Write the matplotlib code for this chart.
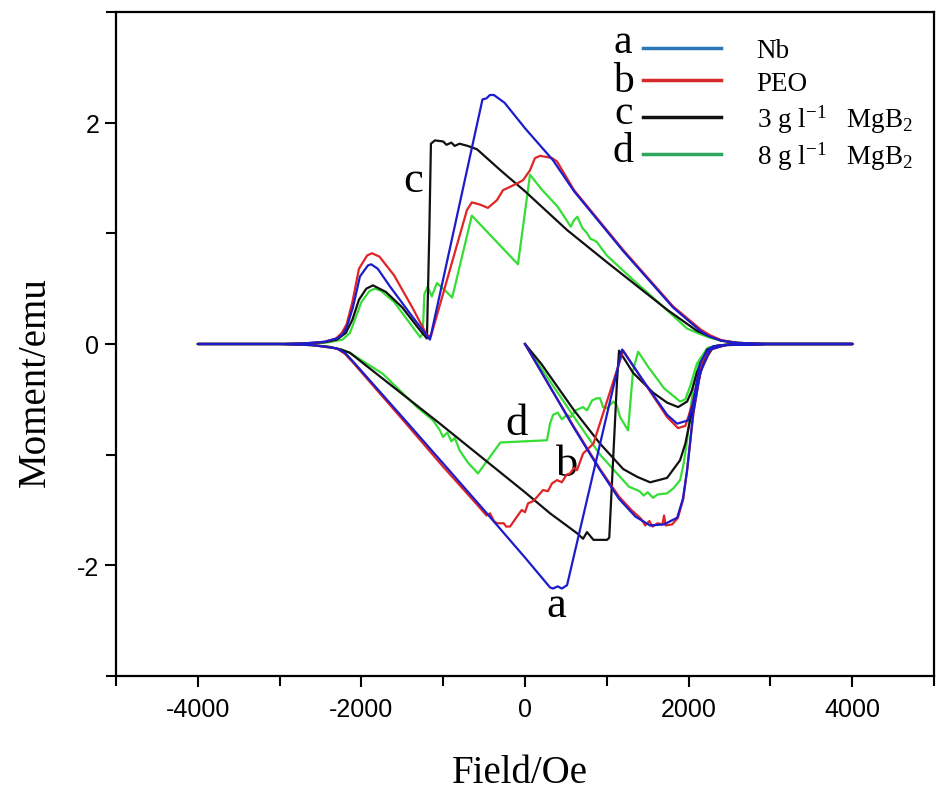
import matplotlib
matplotlib.use("Agg")
import matplotlib.pyplot as plt
from matplotlib.lines import Line2D
from matplotlib.ticker import MultipleLocator

serif = ['Liberation Serif', 'DejaVu Serif']
sans = ['Liberation Sans', 'DejaVu Sans']
plt.rcParams['axes.unicode_minus'] = False
plt.rcParams['mathtext.fontset'] = 'custom'
plt.rcParams['mathtext.rm'] = 'Liberation Serif'
plt.rcParams['mathtext.it'] = 'Liberation Serif:italic'
plt.rcParams['mathtext.bf'] = 'Liberation Serif:bold'

# --- data (field in Oe, moment in emu) ---
# a: Nb
nb_field = [0, 300, 600, 917, 1150, 1350, 1530, 1700, 1860, 1930, 1982, 2055, 2141, 2263, 2450, 3000, 4000,
            3000, 2600, 2400, 2250, 2141, 1810, 1200, 600, 343, 0, -250, -380, -430, -470, -520,
            -1162, -1370, -1651, -1800, -1880, -1920, -2018, -2104, -2180, -2226, -2300, -2450, -2700, -3000, -4000,
            -3000, -2600, -2400, -2300, -2200, -2100, -1500, -1000, -514, 0, 306, 343, 400, 450, 514,
            1187, 1444, 1737, 1860, 1994, 2050, 2141, 2226, 2300, 2500, 3000, 4000]
nb_moment = [0, -0.38, -0.76, -1.14, -1.40, -1.56, -1.64, -1.63, -1.57, -1.40, -1.14, -0.63, -0.26, -0.05, -0.01, 0, 0,
             0, 0.01, 0.03, 0.07, 0.12, 0.33, 0.84, 1.38, 1.66, 1.95, 2.18, 2.25, 2.25, 2.22, 2.21,
             0.04, 0.24, 0.52, 0.68, 0.72, 0.71, 0.61, 0.33, 0.15, 0.09, 0.05, 0.02, 0.005, 0, 0,
             0, -0.01, -0.03, -0.04, -0.08, -0.16, -0.66, -1.08, -1.49, -1.93, -2.2, -2.21, -2.19, -2.21, -2.18,
             -0.05, -0.33, -0.64, -0.72, -0.69, -0.55, -0.17, -0.06, -0.02, -0.005, 0, 0]

# b: PEO
peo_field = [0, 300, 600, 917, 1150, 1300, 1420, 1470, 1520, 1560, 1620, 1680, 1700, 1720, 1800, 1870, 1935, 1985,
             2060, 2145, 2270, 2450, 3000, 4000,
             3000, 2600, 2400, 2260, 2150, 1810, 1200, 600, 391, 330, 269, 183, 122, 61, -24, -100, -183, -269,
             -343, -453, -550, -650, -710, -1150, -1200, -1370, -1600, -1780, -1871, -1930, -2030, -2110, -2180,
             -2240, -2310, -2450, -2700, -3000, -4000,
             -3000, -2600, -2400, -2300, -2200, -2100, -1500, -1000, -600, -470, -428, -380, -343, -260, -230,
             -183, -98, -40, 0, 37, 100, 150, 220, 280, 330, 391, 450, 510, 550, 600, 636, 710, 837,
             1200, 1450, 1737, 1870, 1960, 2000, 2060, 2150, 2240, 2320, 2500, 3000, 4000]
peo_moment = [0, -0.38, -0.75, -1.13, -1.38, -1.50, -1.58, -1.64, -1.60, -1.65, -1.62, -1.63, -1.55, -1.64, -1.63,
              -1.57, -1.40, -1.12, -0.62, -0.25, -0.05, -0.01, 0, 0,
              0, 0.01, 0.035, 0.08, 0.13, 0.34, 0.85, 1.39, 1.65, 1.68, 1.69, 1.70, 1.68, 1.57, 1.48, 1.45, 1.42,
              1.39, 1.30, 1.23, 1.26, 1.28, 1.21, 0.07, 0.08, 0.32, 0.62, 0.79, 0.82, 0.80, 0.68, 0.38, 0.18,
              0.10, 0.05, 0.02, 0.005, 0, 0,
              0, -0.01, -0.03, -0.04, -0.09, -0.17, -0.68, -1.11, -1.44, -1.55, -1.53, -1.60, -1.62, -1.62, -1.65,
              -1.65, -1.56, -1.50, -1.52, -1.44, -1.42, -1.38, -1.32, -1.33, -1.26, -1.23, -1.25, -1.18, -1.17,
              -1.12, -1.14, -0.99, -0.90,
              -0.06, -0.34, -0.66, -0.76, -0.74, -0.65, -0.50, -0.18, -0.06, -0.02, -0.005, 0, 0]

# c: 3 g/l MgB2
mg3_field = [0, 200, 600, 917, 1200, 1370, 1530, 1737, 1896, 1960, 2018, 2100, 2177, 2300, 2500, 3000, 4000,
             3000, 2600, 2400, 2250, 2100, 1737, 1000, 514, 0, -300, -587, -700, -800, -860, -900, -960, -1000,
             -1101, -1150, -1170, -1199, -1300, -1500, -1700, -1859, -1940, -2030, -2110, -2190, -2300, -2450,
             -2700, -3000, -4000,
             -3000, -2600, -2400, -2250, -2140, -1040, 0, 306, 636, 710, 758, 837, 1003, 1030, 1125, 1150,
             1321, 1566, 1737, 1872, 1982, 2040, 2100, 2226, 2350, 2500, 3000, 4000]
mg3_moment = [0, -0.18, -0.60, -0.90, -1.13, -1.20, -1.25, -1.21, -1.05, -0.90, -0.69, -0.40, -0.17, -0.03, -0.005, 0, 0,
              0, 0.01, 0.03, 0.07, 0.12, 0.31, 0.74, 1.03, 1.38, 1.57, 1.76, 1.79, 1.81, 1.79, 1.82, 1.80, 1.83,
              1.84, 1.81, 1.0, 0.05, 0.14, 0.33, 0.47, 0.53, 0.50, 0.40, 0.22, 0.10, 0.04, 0.015,
              0.005, 0, 0,
              0, -0.01, -0.025, -0.05, -0.08, -0.72, -1.34, -1.53, -1.71, -1.76, -1.70, -1.77, -1.77, -1.75, -0.33, -0.06,
              -0.26, -0.44, -0.53, -0.57, -0.52, -0.42, -0.26, -0.05, -0.015, -0.005, 0, 0]

# d: 8 g/l MgB2
mg8_field = [0, 300, 600, 917, 1100, 1272, 1400, 1450, 1500, 1566, 1620, 1737, 1820, 1896, 1940, 1982, 2055, 2141,
             2250, 2450, 3000, 4000,
             3000, 2600, 2400, 2250, 2141, 1980, 1700, 1321, 1000, 920, 880, 837, 800, 760, 700, 640, 600, 560,
             400, 200, 61, -86, -650, -890, -1000, -1077, -1140, -1190, -1230, -1250, -1280, -1400, -1600, -1760,
             -1835, -1900, -2000, -2080, -2140, -2230, -2400, -2700, -3000, -4000,
             -3000, -2600, -2400, -2250, -2140, -1737, -1321, -1125, -1040, -1003, -950, -900, -860, -836, -800,
             -700, -575, -330, -300, 269, 306, 343, 400, 450, 514, 560, 620, 710, 758, 820, 880, 917, 954, 1003,
             1080, 1120, 1162, 1260, 1321, 1383, 1500, 1700, 1896, 1960, 2020, 2100, 2226, 2400, 3000, 4000]
mg8_moment = [0, -0.33, -0.66, -1.00, -1.15, -1.29, -1.33, -1.37, -1.34, -1.39, -1.36, -1.35, -1.30, -1.23, -1.08,
              -0.87, -0.39, -0.14, -0.03, -0.005, 0, 0,
              0, 0.01, 0.03, 0.06, 0.09, 0.14, 0.33, 0.58, 0.80, 0.88, 0.92, 0.94, 0.95, 1.00, 1.05, 1.15, 1.12, 1.06,
              1.24, 1.40, 1.53, 0.72, 1.16, 0.42, 0.50, 0.55, 0.43, 0.52, 0.45, 0.10, 0.06, 0.18, 0.38, 0.48,
              0.50, 0.48, 0.38, 0.22, 0.10, 0.04, 0.015, 0.005, 0, 0,
              0, -0.01, -0.025, -0.05, -0.08, -0.27, -0.57, -0.69, -0.78, -0.84, -0.80, -0.88, -0.85, -0.89, -0.96,
              -1.07, -1.17, -0.92, -0.89, -0.87, -0.72, -0.64, -0.62, -0.68, -0.64, -0.66, -0.60, -0.57, -0.60,
              -0.51, -0.49, -0.49, -0.57, -0.58,
              -0.52, -0.55, -0.66, -0.78, -0.24, -0.07, -0.20, -0.40, -0.52, -0.50, -0.38, -0.18, -0.04, -0.01, 0, 0]

letters = ['a', 'b', 'c', 'd']
labels = ['Nb', 'PEO', '3 g l$^{\\mathregular{-1}}$   MgB$_{\\mathregular{2}}$',
          '8 g l$^{\\mathregular{-1}}$   MgB$_{\\mathregular{2}}$']
curve_colors = ['#1c1ccc', '#e02525', '#111111', '#35dd35']
legend_colors = ['#2a78b8', '#d42a2a', '#111111', '#2ea65e']

fig = plt.figure(figsize=(9.37, 8.04), dpi=100)
ax = fig.add_axes([0.1238, 0.158, 0.873, 0.8258])

series = [(nb_field, nb_moment), (peo_field, peo_moment), (mg3_field, mg3_moment), (mg8_field, mg8_moment)]
# draw green first, blue last (blue sits on top)
for i in [3, 2, 1, 0]:
    h, m = series[i]
    ax.plot(h, m, color=curve_colors[i], lw=1.6, zorder=3 + (3 - i))

ax.set_xlim(-5000, 5000)
ax.set_ylim(-3, 3)
ax.xaxis.set_major_locator(MultipleLocator(2000))
ax.xaxis.set_minor_locator(MultipleLocator(1000))
ax.yaxis.set_major_locator(MultipleLocator(2))
ax.yaxis.set_minor_locator(MultipleLocator(1))
ax.tick_params(which='both', direction='out', width=1.5, labelsize=18)
ax.tick_params(which='major', length=8)
ax.tick_params(which='minor', length=7)
ax.tick_params(axis='x', pad=7)
ax.tick_params(axis='y', pad=4)
for lab in ax.get_xticklabels() + ax.get_yticklabels():
    lab.set_family(sans)
for sp in ax.spines.values():
    sp.set_linewidth(1.6)

ax.set_xlabel('Field/Oe', fontsize=28, family=serif)
ax.set_ylabel('Moment/emu', fontsize=28, family=serif)
ax.xaxis.set_label_coords(0.494, -0.145)
ax.xaxis.label.set_va('center')
ax.yaxis.set_label_coords(-0.099, 0.444)
ax.yaxis.label.set_va('center')

# legend: one row per sample so the rows keep an even spacing
row_y = [0.942, 0.893, 0.840, 0.784]
legends = []
for col, lab, yy in zip(legend_colors, labels, row_y):
    lg = ax.legend([Line2D([], [], color=col, lw=2.5)], [lab], loc='center left',
                   bbox_to_anchor=(0.644, yy), frameon=False,
                   prop={'family': serif, 'size': 19.5}, handlelength=2.9, handletextpad=1.3,
                   borderpad=0, borderaxespad=0)
    legends.append(lg)
for lg in legends[:-1]:
    ax.add_artist(lg)

letter_y = [0.955, 0.896, 0.848, 0.791]
for t, yy in zip(letters, letter_y):
    ax.text(0.620, yy, t, transform=ax.transAxes, ha='center', va='center', fontsize=30, family=serif)

# letters marking the curves
curve_tags = [('c', -1370, 1.48), ('d', -98, -0.71), ('b', 514, -1.08), ('a', 379, -2.36)]
for t, hx, my in curve_tags:
    ax.text(hx, my, t, ha='center', va='center', fontsize=32, family=serif)

fig.savefig('out.png', dpi=100)
